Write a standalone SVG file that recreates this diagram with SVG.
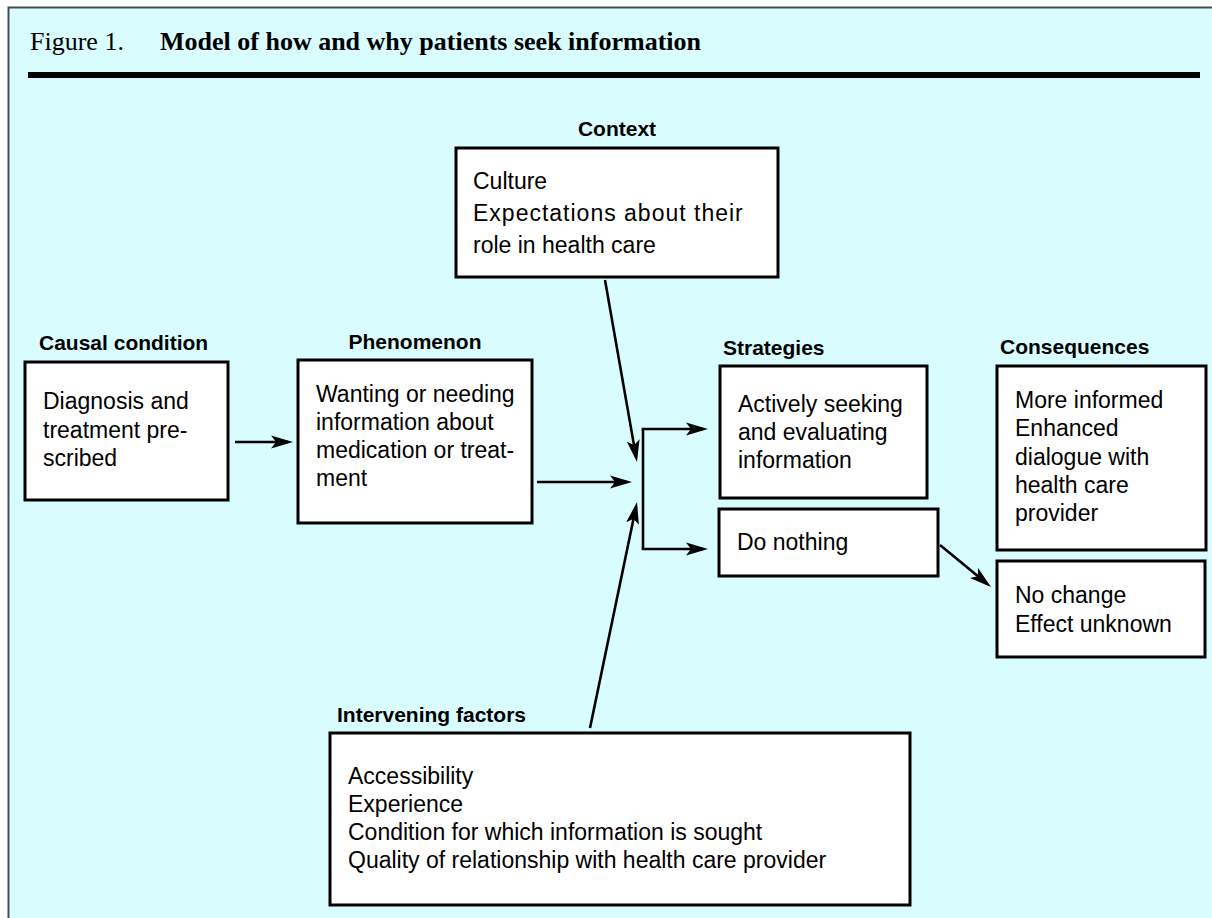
<svg xmlns="http://www.w3.org/2000/svg" width="1212" height="918" viewBox="0 0 1212 918">
<defs>
<style>
.bg{fill:#d9fdff}
.box{fill:#fff;stroke:#000;stroke-width:3}
.lbl{font-family:"Liberation Sans",Arial,sans-serif;font-weight:bold;font-size:21px;fill:#000}
.txt{font-family:"Liberation Sans",Arial,sans-serif;font-size:23px;fill:#000}
.conn{stroke:#000;stroke-width:2.6;fill:none;stroke-linejoin:miter}
.title{font-family:"Liberation Serif","Times New Roman",serif;font-size:26px;fill:#000}
</style>
<marker id="ah" markerUnits="userSpaceOnUse" markerWidth="24" markerHeight="14" refX="17" refY="7" orient="auto" viewBox="0 0 24 14"><path d="M0,0.5 L22,7 L0,13.5 L5,7 z" fill="#000"/></marker>
</defs>
<rect x="0" y="0" width="1212" height="918" fill="#fff"/>
<rect class="bg" x="8" y="7" width="1204" height="911"/>
<path d="M8.5,918 V7.5 H1212" fill="none" stroke="#4a4a4a" stroke-width="2"/>
<g id="title">
<text class="title" x="30" y="50">Figure 1.</text>
<text class="title" x="160" y="50" font-weight="bold">Model of how and why patients seek information</text>
<rect x="28" y="72" width="1172" height="6" fill="#000"/>
</g>
<g id="connectors">
<line class="conn" x1="235" y1="442" x2="288" y2="442" marker-end="url(#ah)"/>
<line class="conn" x1="537" y1="482" x2="627" y2="482" marker-end="url(#ah)"/>
<line class="conn" x1="605" y1="280" x2="636.1" y2="457.1" marker-end="url(#ah)"/>
<line class="conn" x1="590" y1="728" x2="636" y2="506.9" marker-end="url(#ah)"/>
<line class="conn" x1="643" y1="429" x2="643" y2="549"/>
<line class="conn" x1="641.7" y1="429" x2="703" y2="429" marker-end="url(#ah)"/>
<line class="conn" x1="641.7" y1="549" x2="703" y2="549" marker-end="url(#ah)"/>
<line class="conn" x1="940" y1="545" x2="987.1" y2="583.8" marker-end="url(#ah)"/>
</g>
<g id="context">
<text class="lbl" x="617" y="136" text-anchor="middle">Context</text>
<rect class="box" x="456" y="148" width="322" height="129"/>
<text class="txt" x="473" y="189">Culture</text>
<text class="txt" x="473" y="221" letter-spacing="1">Expectations about their</text>
<text class="txt" x="473" y="253">role in health care</text>
</g>
<g id="causal">
<text class="lbl" x="39" y="350">Causal condition</text>
<rect class="box" x="25" y="362" width="203" height="138"/>
<text class="txt" x="43" y="409">Diagnosis and</text>
<text class="txt" x="43" y="438">treatment pre-</text>
<text class="txt" x="43" y="466">scribed</text>
</g>
<g id="phenomenon">
<text class="lbl" x="415" y="349" text-anchor="middle">Phenomenon</text>
<rect class="box" x="298" y="360" width="234" height="163"/>
<text class="txt" x="316" y="402">Wanting or needing</text>
<text class="txt" x="316" y="430">information about</text>
<text class="txt" x="316" y="458">medication or treat-</text>
<text class="txt" x="316" y="486">ment</text>
</g>
<g id="strategies">
<text class="lbl" x="723" y="355">Strategies</text>
<rect class="box" x="720" y="366" width="207" height="132"/>
<text class="txt" x="738" y="412">Actively seeking</text>
<text class="txt" x="738" y="440">and evaluating</text>
<text class="txt" x="738" y="468">information</text>
</g>
<g id="donothing">
<rect class="box" x="719" y="509" width="219" height="67"/>
<text class="txt" x="737" y="550">Do nothing</text>
</g>
<g id="consequences">
<text class="lbl" x="1000" y="354">Consequences</text>
<rect class="box" x="997" y="366" width="209" height="184"/>
<text class="txt" x="1015" y="408">More informed</text>
<text class="txt" x="1015" y="436">Enhanced</text>
<text class="txt" x="1015" y="465">dialogue with</text>
<text class="txt" x="1015" y="493">health care</text>
<text class="txt" x="1015" y="521">provider</text>
</g>
<g id="nochange">
<rect class="box" x="997" y="561" width="208" height="96"/>
<text class="txt" x="1015" y="603">No change</text>
<text class="txt" x="1015" y="632">Effect unknown</text>
</g>
<g id="intervening">
<text class="lbl" x="337" y="722">Intervening factors</text>
<rect class="box" x="330" y="733" width="580" height="172"/>
<text class="txt" x="348" y="784">Accessibility</text>
<text class="txt" x="348" y="812">Experience</text>
<text class="txt" x="348" y="840">Condition for which information is sought</text>
<text class="txt" x="348" y="868">Quality of relationship with health care provider</text>
</g>
</svg>
